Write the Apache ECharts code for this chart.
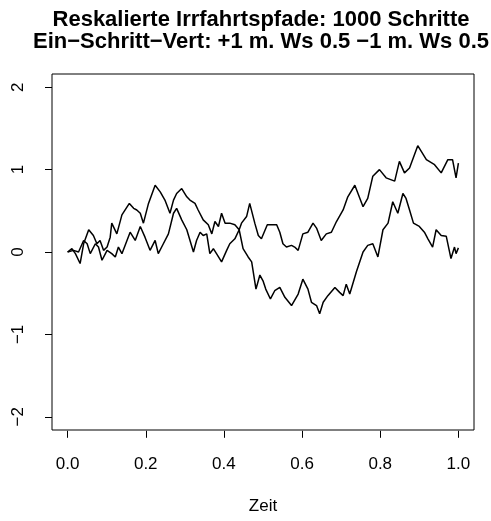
<!DOCTYPE html>
<html>
<head>
<meta charset="utf-8">
<script src="https://cdn.jsdelivr.net/npm/echarts@6/dist/echarts.min.js"></script>
<style>html,body{margin:0;padding:0;background:#fff}#c{width:491px;height:521px}</style>
</head>
<body>
<div id="c"></div>
<script>
var titleLines = ['Reskalierte Irrfahrtspfade: 1000 Schritte', 'Ein\u2212Schritt\u2212Vert: +1 m. Ws 0.5 \u22121 m. Ws 0.5'];
var xName = 'Zeit';
var xTicks = [0, 0.2, 0.4, 0.6, 0.8, 1.0];
var yTicks = [-2, -1, 0, 1, 2];
// Path A: [time, value]
var pathA = [[0,0],[0.011,0.04],[0.020,-0.02],[0.032,-0.14],[0.041,0.10],[0.054,0.27],[0.066,0.20],[0.075,0.10],[0.083,0.14],[0.092,0.02],[0.101,0.06],[0.109,0.18],[0.113,0.35],[0.126,0.22],[0.139,0.45],[0.158,0.59],[0.169,0.53],[0.177,0.51],[0.186,0.47],[0.194,0.35],[0.207,0.59],[0.224,0.81],[0.237,0.73],[0.249,0.63],[0.262,0.47],[0.271,0.63],[0.279,0.71],[0.292,0.77],[0.305,0.67],[0.313,0.63],[0.326,0.59],[0.334,0.51],[0.347,0.39],[0.360,0.33],[0.369,0.22],[0.377,0.37],[0.386,0.31],[0.394,0.47],[0.403,0.35],[0.415,0.35],[0.428,0.33],[0.439,0.27],[0.445,0.35],[0.458,0.43],[0.466,0.59],[0.479,0.35],[0.488,0.20],[0.496,0.16],[0.511,0.33],[0.522,0.33],[0.535,0.33],[0.543,0.24],[0.551,0.10],[0.560,0.06],[0.573,0.08],[0.581,0.06],[0.590,0.02],[0.602,0.22],[0.615,0.24],[0.628,0.35],[0.637,0.29],[0.649,0.14],[0.662,0.22],[0.675,0.24],[0.688,0.37],[0.705,0.51],[0.717,0.67],[0.735,0.81],[0.756,0.55],[0.768,0.65],[0.781,0.92],[0.798,1.00],[0.815,0.90],[0.837,0.86],[0.849,1.10],[0.862,0.96],[0.875,1.02],[0.896,1.29],[0.918,1.12],[0.939,1.06],[0.956,0.96],[0.973,1.12],[0.985,1.12],[0.994,0.90],[1.0,1.08]];
// Path B: [time, value]
var pathB = [[0,0],[0.015,0.02],[0.028,0.0],[0.041,0.14],[0.050,0.10],[0.058,-0.02],[0.071,0.10],[0.079,0.06],[0.088,-0.10],[0.101,0.02],[0.113,-0.02],[0.122,-0.06],[0.130,0.06],[0.139,-0.02],[0.160,0.24],[0.173,0.14],[0.186,0.31],[0.198,0.18],[0.211,0.02],[0.224,0.14],[0.232,-0.02],[0.245,0.10],[0.258,0.22],[0.271,0.47],[0.279,0.53],[0.292,0.39],[0.305,0.27],[0.322,0.0],[0.330,0.14],[0.339,0.24],[0.347,0.20],[0.356,0.22],[0.364,-0.02],[0.373,0.04],[0.381,-0.02],[0.394,-0.12],[0.407,0.02],[0.415,0.10],[0.428,0.16],[0.439,0.27],[0.449,0.04],[0.462,-0.06],[0.471,-0.12],[0.482,-0.45],[0.492,-0.28],[0.500,-0.35],[0.507,-0.45],[0.519,-0.57],[0.530,-0.47],[0.543,-0.43],[0.556,-0.55],[0.573,-0.65],[0.590,-0.51],[0.602,-0.33],[0.615,-0.45],[0.624,-0.61],[0.637,-0.65],[0.645,-0.75],[0.654,-0.61],[0.666,-0.53],[0.684,-0.43],[0.696,-0.49],[0.705,-0.53],[0.713,-0.39],[0.722,-0.51],[0.739,-0.24],[0.756,0.0],[0.768,0.08],[0.781,0.10],[0.794,-0.06],[0.807,0.27],[0.820,0.35],[0.832,0.61],[0.845,0.47],[0.858,0.71],[0.866,0.65],[0.875,0.51],[0.885,0.35],[0.900,0.31],[0.913,0.24],[0.922,0.16],[0.934,0.06],[0.943,0.27],[0.956,0.20],[0.969,0.19],[0.981,-0.08],[0.990,0.06],[0.994,-0.02],[1.0,0.05]];

var FONT = '"Liberation Sans", Arial, Helvetica, sans-serif';
var chart = echarts.init(document.getElementById('c'), null, {renderer: 'canvas'});
var fmtY = function (v) { return String(v).replace('-', '\u2212'); };
chart.setOption({
  animation: false,
  backgroundColor: '#fff',
  graphic: [
    {type: 'text', x: 261, y: 20, style: {text: titleLines[0], font: 'bold 22px ' + FONT, fill: '#000', align: 'center', verticalAlign: 'middle'}},
    {type: 'text', x: 261, y: 42, style: {text: titleLines[1], font: 'bold 22px ' + FONT, fill: '#000', align: 'center', verticalAlign: 'middle'}}
  ],
  grid: [
    {left: 52, right: 17, top: 74, bottom: 91, show: true, borderColor: '#000', borderWidth: 1, backgroundColor: 'transparent'},
    {left: 67.6, right: 32.6, top: 87.2, bottom: 104.2}
  ],
  xAxis: [
    {gridIndex: 0, type: 'value', min: 0, max: 1, show: false},
    {gridIndex: 1, type: 'value', position: 'bottom', min: xTicks[0], max: xTicks[xTicks.length - 1], interval: 0.2, offset: 14,
     axisLine: {show: false, onZero: false}, splitLine: {show: false},
     axisTick: {show: true, inside: false, length: 7, lineStyle: {color: '#000', width: 1}},
     axisLabel: {margin: 25, color: '#000', fontSize: 17, fontFamily: FONT, formatter: function (v) { return v.toFixed(1); }},
     name: xName, nameLocation: 'middle', nameGap: 67, nameTextStyle: {color: '#000', fontSize: 17, fontFamily: FONT}}
  ],
  yAxis: [
    {gridIndex: 0, type: 'value', min: 0, max: 1, show: false},
    {gridIndex: 1, type: 'value', position: 'left', min: yTicks[0], max: yTicks[yTicks.length - 1], interval: 1, offset: 15.6,
     axisLine: {show: false, onZero: false}, splitLine: {show: false},
     axisTick: {show: true, inside: false, length: 7, lineStyle: {color: '#000', width: 1}},
     axisLabel: {margin: 25, rotate: 90, color: '#000', fontSize: 17, fontFamily: FONT, formatter: fmtY}}
  ],
  series: [
    {type: 'line', xAxisIndex: 1, yAxisIndex: 1, data: pathA, showSymbol: false, symbol: 'none', lineStyle: {color: '#000', width: 1.5}},
    {type: 'line', xAxisIndex: 1, yAxisIndex: 1, data: pathB, showSymbol: false, symbol: 'none', lineStyle: {color: '#000', width: 1.5}}
  ]
});
</script>
</body>
</html>
